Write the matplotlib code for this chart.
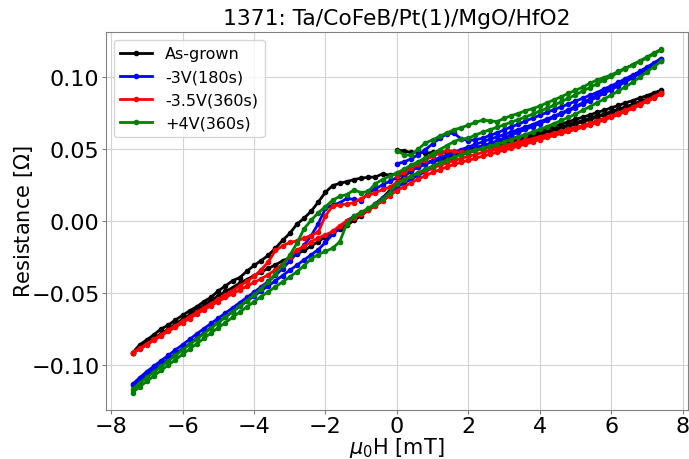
import numpy as np
import matplotlib
matplotlib.use('Agg')
import matplotlib.pyplot as plt

# field sweep: 0 -> +7.4, +7.4 -> -7.4, -7.4 -> +7.4 (mT)
H_init = np.round(np.arange(0, 7.41, 0.2), 1)
H_down = np.round(np.arange(7.4, -7.41, -0.2), 1)
H_up = H_down[::-1]

# resistance in mOhm
asgrown_init = [49.0, 48.6, 47.4, 47.8, 47.0, 47.4, 47.2, 47.8, 47.3, 48.2,
                49.0, 49.8, 51.0, 52.4, 53.2, 54.6, 55.4, 56.8, 57.6, 59.0,
                60.4, 62.0, 63.2, 65.0, 66.4, 68.2, 69.4, 71.0, 72.8, 74.0,
                75.8, 77.4, 79.0, 80.8, 82.6, 84.6, 86.8, 90.0]
asgrown_down = [90.6, 88.8, 86.8, 85.2, 83.4, 81.8, 80.0, 78.4, 76.6, 75.2,
                73.4, 71.8, 70.4, 68.6, 67.2, 65.4, 63.8, 62.4, 60.8, 59.6,
                58.2, 57.0, 55.8, 54.4, 53.4, 52.0, 50.8, 49.4, 48.0, 46.6,
                45.0, 43.4, 41.6, 40.0, 38.2, 36.4, 34.6, 32.8,
                31.6, 32.6, 30.4, 30.2, 29.6, 28.6, 27.2, 26.0, 24.4, 19.8,
                13.0, 6.6, 1.8, -2.4, -8.8, -13.6, -19.0, -24.0, -27.6, -31.0,
                -35.0, -39.4, -41.6, -45.2, -48.6, -53.0, -56.0, -59.6, -62.4, -65.6,
                -68.8, -72.4, -75.0, -79.0, -82.6, -86.0, -91.6]
asgrown_up = [-91.8, -88.4, -84.6, -81.8, -78.2, -75.2, -71.6, -68.4, -65.2, -61.6,
              -58.8, -55.2, -52.2, -49.0, -46.4, -43.2, -40.8, -38.0, -35.6, -33.0,
              -30.6, -27.8, -25.6, -23.0, -20.6, -17.6, -14.4, -11.2, -8.6, -5.8,
              -3.2, 0.4, 3.6, 7.4, 11.6, 16.0, 21.0, 26.4, 30.6, 34.8,
              37.2, 39.4, 41.2, 42.4, 43.6, 45.0, 46.2, 47.4, 48.8, 50.0,
              51.2, 52.4, 53.4, 54.6, 55.8, 57.0, 58.2, 59.6, 61.0, 62.6,
              64.0, 65.6, 67.0, 68.8, 70.2, 71.8, 73.4, 75.0, 76.8, 78.4,
              80.2, 82.0, 84.0, 86.2, 88.6]

m3v_init = [39.6, 40.8, 43.0, 46.0, 49.4, 53.4, 57.2, 60.4, 60.8, 56.8,
            55.6, 56.4, 57.2, 59.2, 61.0, 63.0, 65.2, 67.0, 69.2, 71.2,
            73.2, 75.2, 77.2, 79.0, 81.0, 83.0, 85.0, 87.0, 89.0, 91.4,
            93.6, 96.0, 98.6, 101.0, 103.4, 106.2, 109.0, 112.4]
m3v_down = [112.6, 109.6, 106.6, 103.6, 100.6, 97.8, 95.0, 92.2, 89.6, 87.0,
            84.4, 81.8, 79.4, 77.0, 74.8, 72.6, 70.6, 68.8, 66.8, 65.0,
            63.2, 61.6, 59.8, 58.2, 56.6, 54.8, 53.0, 51.2, 49.4, 47.6,
            45.8, 43.8, 41.8, 39.6, 37.4, 35.0, 32.6, 30.0,
            27.4, 25.0, 22.2, 19.4, 14.0, 14.8, 15.6, 12.4, 11.0, 8.6,
            -2.0, -10.4, -17.0, -22.4, -28.0, -33.2, -37.8, -42.0, -45.8, -49.6,
            -53.2, -56.8, -60.4, -64.0, -67.6, -71.2, -74.8, -78.4, -82.2, -86.0,
            -89.6, -93.4, -97.0, -100.8, -104.6, -108.8, -113.4]
m3v_up = [-114.0, -110.6, -106.8, -103.4, -99.6, -96.0, -92.4, -88.8, -85.2, -81.4,
          -77.8, -74.0, -70.4, -66.8, -63.0, -59.4, -55.8, -52.2, -48.6, -45.2,
          -41.6, -38.0, -34.4, -30.8, -27.2, -23.6, -20.0, -15.0, -9.4, -4.6,
          0.2, 3.0, 5.2, 8.4, 12.0, 15.8, 19.6, 23.4, 26.2, 29.0,
          31.6, 34.2, 36.8, 39.4, 41.8, 44.0, 46.0, 48.0, 50.0, 51.8,
          53.6, 55.4, 57.4, 59.4, 61.4, 63.4, 65.4, 67.4, 69.6, 71.8,
          74.0, 76.2, 78.6, 81.0, 83.4, 85.8, 88.4, 91.0, 93.6, 96.4,
          99.2, 102.2, 105.2, 108.2, 111.2]

m35v_init = [31.0, 33.6, 36.4, 39.4, 42.2, 44.8, 47.0, 48.8, 48.2, 47.4,
             48.0, 49.2, 50.0, 50.8, 51.4, 52.2, 53.4, 54.6, 55.8, 57.0,
             58.4, 59.6, 60.8, 62.0, 63.4, 64.6, 66.0, 67.6, 69.0, 70.8,
             72.4, 74.4, 76.2, 78.4, 80.6, 83.0, 85.6, 88.4]
m35v_down = [88.8, 86.2, 83.6, 81.2, 79.0, 76.8, 74.6, 72.8, 70.8, 69.2,
             67.4, 65.8, 64.4, 62.8, 61.4, 60.0, 58.6, 57.2, 56.0, 54.6,
             53.4, 52.2, 51.0, 49.8, 48.6, 47.4, 46.0, 44.8, 43.2, 41.8,
             40.2, 38.4, 36.8, 34.8, 33.0, 31.0, 28.8, 26.6,
             23.2, 21.8, 19.4, 17.8, 15.4, 12.6, 11.6, 11.0, 10.2, 3.4,
             -7.8, -10.2, -12.0, -14.0, -15.0, -17.4, -20.6, -28.6, -34.0, -38.6,
             -42.0, -45.2, -48.4, -51.4, -54.4, -57.4, -60.4, -63.4, -66.6, -69.6,
             -72.8, -75.8, -79.0, -82.2, -85.4, -88.4, -91.4]
m35v_up = [-92.0, -89.0, -86.0, -82.8, -79.8, -76.6, -73.8, -70.6, -67.8, -64.6,
           -61.8, -58.8, -56.0, -53.2, -50.6, -48.0, -45.4, -42.8, -40.2, -37.4,
           -34.0, -30.0, -25.0, -20.4, -17.6, -14.6, -11.8, -9.8, -7.4, -3.4,
           -0.2, 2.2, 4.4, 7.2, 10.4, 13.8, 17.4, 21.0, 23.6, 26.4,
           29.0, 31.2, 33.6, 35.4, 37.4, 39.2, 40.6, 42.0, 43.4, 44.8,
           46.2, 47.6, 49.0, 50.4, 51.8, 53.2, 54.8, 56.4, 57.8, 59.2,
           60.6, 62.0, 63.4, 64.8, 66.4, 68.2, 70.0, 71.8, 73.8, 75.8,
           78.0, 80.4, 82.8, 85.4, 88.0]

p4v_init = [48.6, 46.0, 45.4, 49.8, 54.0, 56.2, 58.6, 61.0, 63.2, 64.6,
            66.4, 68.4, 69.8, 69.4, 68.8, 71.0, 73.0, 74.4, 76.4, 77.8,
            79.6, 81.8, 84.0, 86.0, 88.4, 90.6, 92.6, 95.4, 97.6, 99.4,
            101.2, 103.6, 106.0, 108.0, 110.4, 113.0, 115.8, 118.6]
p4v_down = [119.0, 116.4, 113.6, 111.0, 108.4, 105.6, 103.0, 100.2, 97.6, 95.0,
            92.4, 90.0, 87.4, 85.0, 82.6, 80.2, 78.0, 76.0, 74.0, 72.0,
            70.2, 68.4, 66.6, 64.8, 63.2, 61.4, 59.6, 57.2, 56.8, 55.0,
            52.2, 49.4, 46.6, 43.8, 41.0, 38.6, 35.8, 33.2,
            31.0, 28.6, 25.8, 20.4, 19.6, 21.4, 18.2, 17.0, 14.2, 9.8,
            5.6, 0.4, -5.6, -15.6, -24.0, -31.0, -37.0, -42.4, -47.0, -51.4,
            -55.4, -59.2, -63.0, -66.8, -70.6, -74.4, -78.2, -82.0, -85.8, -89.6,
            -93.4, -97.2, -101.0, -104.8, -108.6, -112.6, -116.8]
p4v_up = [-119.2, -115.2, -111.4, -107.6, -103.8, -100.2, -96.4, -92.6, -89.0, -85.2,
          -81.6, -77.8, -74.2, -70.6, -67.0, -63.4, -59.8, -56.2, -52.6, -49.2,
          -45.8, -42.4, -39.0, -35.4, -31.2, -26.4, -23.4, -21.2, -19.0, -14.6,
          -2.0, 3.2, 6.0, 8.6, 11.6, 15.0, 19.6, 25.8, 28.4, 31.0,
          33.4, 35.8, 38.0, 40.2, 42.2, 44.2, 46.0, 47.6, 49.0, 50.4,
          51.8, 53.2, 54.8, 56.4, 58.0, 59.8, 61.6, 63.4, 65.4, 67.4,
          69.6, 71.8, 74.0, 76.6, 79.2, 81.8, 84.4, 87.2, 90.0, 93.0,
          96.0, 99.6, 103.2, 107.0, 110.6]

labels = ['As-grown', '-3V(180s)', '-3.5V(360s)', '+4V(360s)']
colors = ['black', 'blue', 'red', 'green']
series = [(asgrown_init, asgrown_down, asgrown_up),
          (m3v_init, m3v_down, m3v_up),
          (m35v_init, m35v_down, m35v_up),
          (p4v_init, p4v_down, p4v_up)]
xticks = [-8, -6, -4, -2, 0, 2, 4, 6, 8]

H_all = np.concatenate([H_init, H_down, H_up])

fig, ax = plt.subplots(figsize=(6.89, 4.60), dpi=100)
fig.subplots_adjust(left=0.154, right=0.998, top=0.928, bottom=0.107)

for (r_init, r_down, r_up), lab, col in zip(series, labels, colors):
    R = np.concatenate([r_init, r_down, r_up]) / 1000.0
    ax.plot(H_all, R, '-o', color=col, lw=2, ms=3, label=lab)

ax.set_xticks(xticks)
ax.set_title('1371: Ta/CoFeB/Pt(1)/MgO/HfO2', fontsize=15.7)
ax.set_xlabel(r'$\mu_0$H [mT]', fontsize=15, labelpad=-1)
ax.set_ylabel(r'Resistance [$\Omega$]', fontsize=15, labelpad=-3)
ax.tick_params(labelsize=16, color='gray', length=3.2, pad=1.5)
ax.grid(True, color='#d3d3d3', lw=0.8)
for s in ax.spines.values():
    s.set_color('gray')
ax.legend(loc='upper left', fontsize=11.5)

plt.savefig('out.png')
